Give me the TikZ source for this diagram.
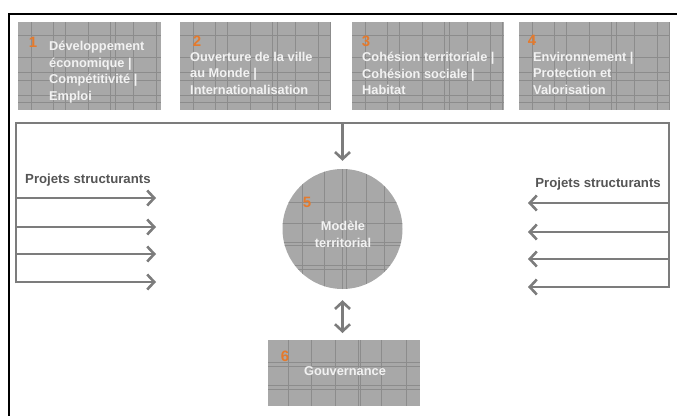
\documentclass[tikz,border=0pt]{standalone}
\usepackage{fontspec}
\setmainfont{Liberation Sans}
\usetikzlibrary{arrows.meta}
\definecolor{boxgray}{HTML}{A8A8A8}
\definecolor{gridgray}{HTML}{8C8C8C}
\definecolor{txtlight}{HTML}{F2F2F2}
\definecolor{numorange}{HTML}{E57A2C}
\definecolor{conngray}{HTML}{7C7C7C}
\definecolor{labgray}{HTML}{555555}
\tikzset{
  boxnode/.style={fill=boxgray, draw=none, anchor=north west, inner sep=0pt},
  gridl/.style={draw=gridgray, line width=0.6pt},
  numlab/.style={text=numorange, font=\bfseries\fontsize{15}{15}\selectfont, inner sep=0pt},
  boxtxt/.style={text=txtlight, font=\bfseries\fontsize{12.8}{16.5}\selectfont, align=left, anchor=north west, inner sep=0pt},
  conn/.style={draw=conngray, line width=2.6pt},
  arr/.style={conn, -{Straight Barb[length=7pt,width=15pt]}},
  darr/.style={conn, {Straight Barb[length=7pt,width=15pt]}-{Straight Barb[length=7pt,width=15pt]}},
  projlab/.style={text=labgray, font=\bfseries\fontsize{13.2}{15}\selectfont, inner sep=0pt},
  framel/.style={draw=black, line width=1.6pt}
}
\begin{document}
\begin{tikzpicture}[x=1pt,y=-1pt]
\useasboundingbox (0,0) rectangle (677,415);
\fill[white] (0,0) rectangle (677,415);
% outer frame
\coordinate (FBL) at (9,416);
\coordinate (FTL) at (9,14);
\coordinate (FTR) at (678,14);
\draw[framel] (FBL) -- (FTL) -- (FTR);

% top boxes
\node[boxnode, minimum width=143pt, minimum height=88pt] (b1) at (18,22) {};
\node[boxnode, minimum width=151pt, minimum height=88pt] (b2) at (180,22) {};
\node[boxnode, minimum width=152pt, minimum height=88pt] (b3) at (352,22) {};
\node[boxnode, minimum width=151pt, minimum height=88pt] (b4) at (519,22) {};
\foreach \bx/\x/\w in {b1/18/143, b2/180/151, b3/352/152, b4/519/151}{
  \begin{scope}
    \clip (\x,22) rectangle ++(\w,88);
    \foreach \dx in {13,35,47,70,92,97,115,138,150}{ \draw[gridl] (\x+\dx,22) -- ++(0,88); }
    \foreach \dy in {13,35,50,58,73,80}{ \draw[gridl] (\x,22+\dy) -- ++(\w,0); }
  \end{scope}
}
\node[numlab] (n1) at (33,42.5) {1};
\node[boxtxt] (t1) at (49,41) {Développement\\économique |\\Compétitivité |\\Emploi};
\node[numlab] (n2) at (197,41) {2};
\node[boxtxt] (t2) at (190,52) {Ouverture de la ville\\au Monde |\\Internationalisation};
\node[numlab] (n3) at (366,41) {3};
\node[boxtxt] (t3) at (362,52) {Cohésion territoriale |\\Cohésion sociale |\\Habitat};
\node[numlab] (n4) at (532,40) {4};
\node[boxtxt] (t4) at (533,52) {Environnement |\\Protection et\\Valorisation};

% circle
\node[circle, fill=boxgray, minimum size=120pt, inner sep=0pt] (c5) at (342.5,229) {};
\begin{scope}
  \clip (342.5,229) circle (60pt);
  \foreach \dx in {-40,-18,0,4,24,42}{ \draw[gridl] (342.5+\dx,160) -- ++(0,140); }
  \foreach \dy in {-27,-6,13,16,36,40}{ \draw[gridl] (280,229+\dy) -- ++(130,0); }
\end{scope}
\node[numlab] (n5) at (307,202) {5};
\node[boxtxt, anchor=center, align=center, font=\bfseries\fontsize{12.8}{17}\selectfont] (t5) at (343,234) {Modèle\\territorial};

% governance box
\node[boxnode, minimum width=152pt, minimum height=66pt] (b6) at (268,340) {};
\begin{scope}
  \clip (268,340) rectangle ++(152,66);
  \foreach \dx in {20,43,67,90,92,113,138}{ \draw[gridl] (268+\dx,340) -- ++(0,66); }
  \foreach \dy in {22,26,45,49}{ \draw[gridl] (268,340+\dy) -- ++(152,0); }
\end{scope}
\node[numlab] (n6) at (285,356) {6};
\node[boxtxt, anchor=center] (t6) at (345,371) {Gouvernance};

% bracket and arrows
\coordinate (TL) at (16,123);
\coordinate (TR) at (669,123);
\coordinate (TM) at (342.5,123);
\coordinate (LB) at (16,283.3);
\coordinate (RB) at (669,288.3);
\draw[conn] (LB) -- (TL) -- (TR) -- (RB);
\draw[arr, shorten >=8pt] (TM) -- (c5.north);
\draw[darr, shorten <=11pt, shorten >=7pt] (c5.south) -- (b6.north -| c5.south);

\foreach \i/\y in {1/198,2/227,3/254,4/282}{
  \coordinate (L\i) at (16,\y);
  \coordinate (LT\i) at (156,\y);
  \draw[arr] (L\i) -- (LT\i);
}
\foreach \i/\y in {1/203,2/232,3/259,4/287}{
  \coordinate (R\i) at (669,\y);
  \coordinate (RT\i) at (528,\y);
  \draw[arr] (R\i) -- (RT\i);
}
\node[projlab, anchor=west] (p1) at (25,180) {Projets structurants};
\node[projlab, anchor=east] (p2) at (661,184) {Projets structurants};
\end{tikzpicture}
\end{document}
